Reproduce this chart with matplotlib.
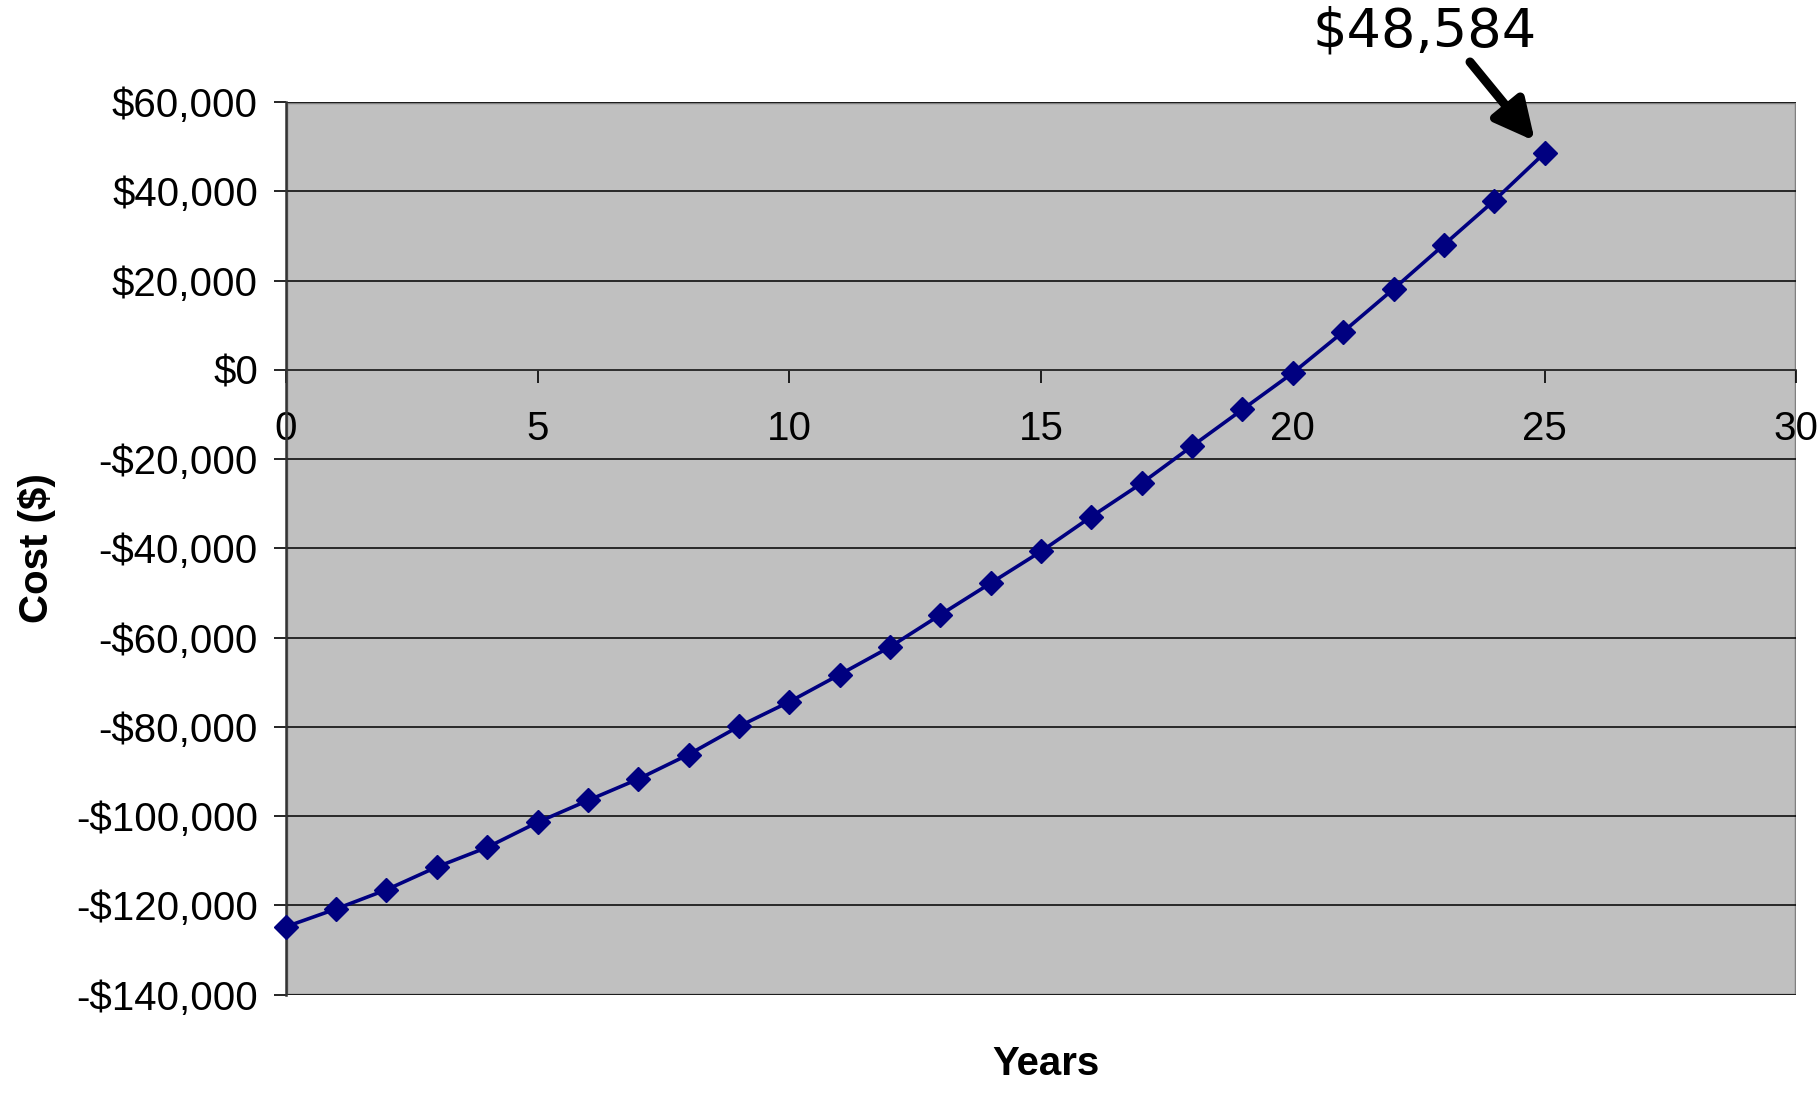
import numpy as np
import matplotlib
matplotlib.use('Agg')
import matplotlib.pyplot as plt
from matplotlib.patches import Rectangle
from matplotlib.ticker import FuncFormatter

'''
cumulative cost over the years, Excel-style line chart with a callout on the last value
'''

years = list(range(0, 26))
cost = [-124800, -120800, -116500, -111400, -107000, -101400, -96500, -91700,
        -86200, -79900, -74400, -68300, -62100, -54900, -47800, -40700,
        -32900, -25400, -17100, -8900, -700, 8500, 18100, 28000, 37900, 48584]

x_ticks = [0, 5, 10, 15, 20, 25, 30]
y_ticks = list(range(-140000, 60001, 20000))
callout_text = '$48,584'

plt.rcParams['font.family'] = ['Liberation Sans', 'DejaVu Sans']

fig = plt.figure(figsize=(18.2, 10.93), dpi=100)
ax = fig.add_axes([0.157, 0.090, 0.830, 0.8167])
ax.set_facecolor('#c0c0c0')

# gridlines, drawn under the series
ax.set_axisbelow(True)
ax.yaxis.grid(True, color='black', linewidth=1.1)

ax.plot(years, cost, color='#000080', linewidth=2.6, marker='D', markersize=12.5,
        markerfacecolor='#000080', markeredgecolor='#000080', zorder=3, clip_on=False)

ax.set_xlim(0, 30)
ax.set_ylim(-140000, 60000)
ax.set_xticks(x_ticks)
ax.set_yticks(y_ticks)


def money(v, pos):
    if v < 0:
        return '-${:,.0f}'.format(-v)
    return '${:,.0f}'.format(v)


ax.yaxis.set_major_formatter(FuncFormatter(money))

# x axis crosses at zero, plot area keeps a grey frame
for side in ['top', 'right']:
    ax.spines[side].set_visible(False)
ax.spines['bottom'].set_position(('data', 0))
ax.spines['bottom'].set_color('#333333')
ax.spines['bottom'].set_linewidth(1.2)
ax.spines['left'].set_color('#333333')
ax.spines['left'].set_linewidth(1.8)
ax.add_patch(Rectangle((0, 0), 1, 1, transform=ax.transAxes, fill=False,
                       edgecolor='#808080', linewidth=2.5, zorder=0.5))

ax.tick_params(axis='y', direction='out', length=9, width=1.2, labelsize=29, pad=11)
ax.tick_params(axis='x', direction='out', length=9, width=1.2, labelsize=29, pad=20)

ax.set_ylabel('Cost ($)', fontsize=29, fontweight='bold')
ax.yaxis.set_label_coords(-0.152, 0.5)
ax.set_xlabel('Years', fontsize=29, fontweight='bold')
ax.xaxis.set_label_coords(0.503, -0.056)

# callout on final value
fig.text(1425 / 1820, 1 - 46 / 1093, callout_text, ha='center', va='baseline',
         fontsize=39, family='DejaVu Sans')
ax.annotate('', xy=(years[-1], cost[-1]), xytext=(0.8077, 0.9433),
            textcoords='figure fraction', annotation_clip=False,
            arrowprops=dict(arrowstyle='-|>,head_length=1.2,head_width=0.6',
                            mutation_scale=20, color='black', linewidth=6.5,
                            shrinkA=0, shrinkB=11))

fig.savefig('out.png', dpi=100)
